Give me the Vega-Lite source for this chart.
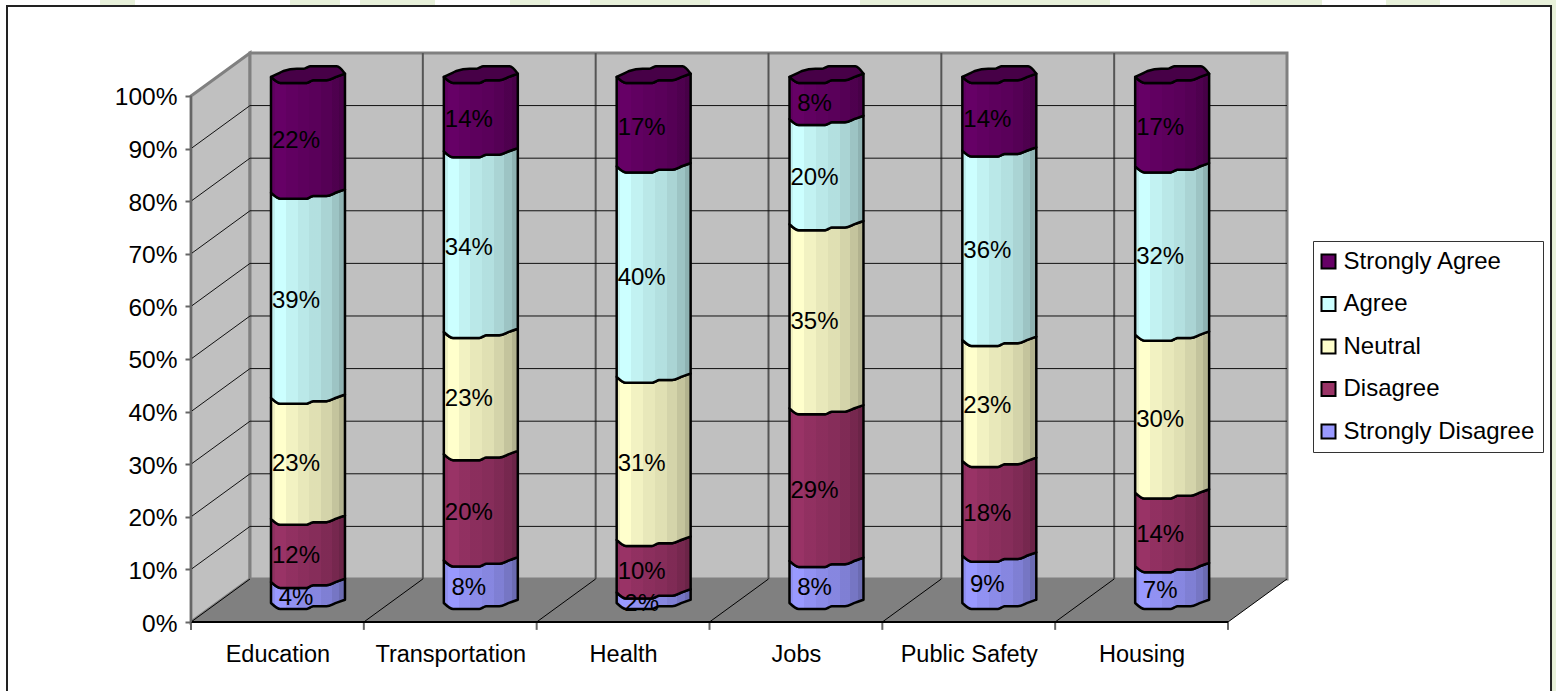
{
"$schema":"https://vega.github.io/schema/vega-lite/v6.json",
"width":1096,"height":569,
"autosize":"none",
"padding":{"left":191,"top":53,"right":269,"bottom":69},
"background":"white",
"config":{"view":{"stroke":null},"font":"Liberation Sans"},
"data":{"values":[
{"cat":0,"series":"Strongly Disagree","order":1,"value":4},{"cat":0,"series":"Disagree","order":2,"value":12},{"cat":0,"series":"Neutral","order":3,"value":23},{"cat":0,"series":"Agree","order":4,"value":39},{"cat":0,"series":"Strongly Agree","order":5,"value":22},
{"cat":1,"series":"Strongly Disagree","order":1,"value":8},{"cat":1,"series":"Disagree","order":2,"value":20},{"cat":1,"series":"Neutral","order":3,"value":23},{"cat":1,"series":"Agree","order":4,"value":34},{"cat":1,"series":"Strongly Agree","order":5,"value":14},
{"cat":2,"series":"Strongly Disagree","order":1,"value":2},{"cat":2,"series":"Disagree","order":2,"value":10},{"cat":2,"series":"Neutral","order":3,"value":31},{"cat":2,"series":"Agree","order":4,"value":40},{"cat":2,"series":"Strongly Agree","order":5,"value":17},
{"cat":3,"series":"Strongly Disagree","order":1,"value":8},{"cat":3,"series":"Disagree","order":2,"value":29},{"cat":3,"series":"Neutral","order":3,"value":35},{"cat":3,"series":"Agree","order":4,"value":20},{"cat":3,"series":"Strongly Agree","order":5,"value":8},
{"cat":4,"series":"Strongly Disagree","order":1,"value":9},{"cat":4,"series":"Disagree","order":2,"value":18},{"cat":4,"series":"Neutral","order":3,"value":23},{"cat":4,"series":"Agree","order":4,"value":36},{"cat":4,"series":"Strongly Agree","order":5,"value":14},
{"cat":5,"series":"Strongly Disagree","order":1,"value":7},{"cat":5,"series":"Disagree","order":2,"value":14},{"cat":5,"series":"Neutral","order":3,"value":30},{"cat":5,"series":"Agree","order":4,"value":32},{"cat":5,"series":"Strongly Agree","order":5,"value":17}
]},
"transform":[
{"stack":"value","groupby":["cat"],"sort":[{"field":"order","order":"ascending"}],"offset":"normalize","as":["v0","v1"]},
{"calculate":"[0,0.125,0.17,0.35,0.44,0.48,0.53,0.57,0.75,0.89,1]","as":"ts"},
{"calculate":"[0,6,6,6,6,6,4.5,3.3,3.3,-0.4,-3.3]","as":"fr"},
{"calculate":"[0,-4.4,-6,-8.3,-8.3,-9.3,-10.7,-10.7,-10.7,-10.7,-3.3]","as":"bk"},
{"flatten":["ts","fr","bk"]},
{"calculate":"datum.cat+0.4629+0.428*datum.ts","as":"px"},
{"calculate":"3.612+100*datum.v0-datum.fr/5.26","as":"lo"},
{"calculate":"3.612+100*datum.v1-datum.fr/5.26","as":"hi"},
{"calculate":"3.612+100*datum.v1-datum.bk/5.26","as":"back"},
{"calculate":"datum.cat+'-'+datum.series","as":"key"},
{"calculate":"format(datum.value,'.0f')+'%'","as":"label"},
{"calculate":"datum.cat+0.6075","as":"lx"},
{"calculate":"100*(datum.v0+datum.v1)/2+2.47","as":"ly"}
],
"layer":[
{"data":{"values":[
{"a":100,"b":135,"t":118.3,"u":117},{"a":290,"b":340,"t":118.3,"u":117},{"a":360,"b":435,"t":118.3,"u":117},{"a":510,"b":550,"t":118.3,"u":117},{"a":590,"b":710,"t":118.3,"u":117},{"a":860,"b":1110,"t":118.3,"u":117},{"a":1250,"b":1322,"t":118.3,"u":117},{"a":1386,"b":1440,"t":118.3,"u":117},{"a":1500,"b":1556,"t":118.3,"u":117},{"a":1552,"b":1556,"t":118.3,"u":-13.2}
]},
"transform":[{"calculate":"(datum.a-191)/172.83","as":"xa"},{"calculate":"(datum.b-191)/172.83","as":"xb"}],
"mark":{"type":"rect","fill":"#E8F1DA","clip":false},
"encoding":{"x":{"field":"xa","type":"quantitative","scale":{"domain":[0,6.3414],"nice":false,"zero":false},"axis":{"values":[0.5,1.5,2.5,3.5,4.5,5.5],"labelExpr":"['Education','Transportation','Health','Jobs','Public Safety','Housing'][floor(datum.value)]","ticks":false,"domain":false,"grid":false,"title":null,"labelFontSize":23.5,"labelColor":"black","labelPadding":20,"zindex":1,"labelOverlap":false,"labelFlush":false}},"x2":{"field":"xb"},
"y":{"field":"t","type":"quantitative","scale":{"domain":[0,108.17],"nice":false,"zero":false},"axis":{"values":[0,10,20,30,40,50,60,70,80,90,100],"labelExpr":"datum.value+'%'","domain":false,"grid":false,"title":null,"tickColor":"#666666","tickSize":6,"tickWidth":2,"labelFontSize":24.5,"labelColor":"black","labelPadding":8,"labelOffset":2,"zindex":1,"labelOverlap":false,"labelFlush":false}},"y2":{"field":"u"}}},
{"data":{"values":[{"x":-1.0646,"x2":7.869,"y":117.1,"y2":-14.8}]},
"mark":{"type":"rect","fill":"white","stroke":"#222222","strokeWidth":2},
"encoding":{"x":{"field":"x","type":"quantitative"},"x2":{"field":"x2"},"y":{"field":"y","type":"quantitative"},"y2":{"field":"y2"}}},
{"data":{"values":[{"x":0,"top":100,"bot":0},{"x":0.3414,"top":108.175,"bot":8.175}]},
"mark":{"type":"area","fill":"#C0C0C0","stroke":"#808080","strokeWidth":3,"clip":false},
"encoding":{"x":{"field":"x","type":"quantitative"},"y":{"field":"top","type":"quantitative","stack":null},"y2":{"field":"bot"}}},
{"data":{"values":[{"x":0.3414,"x2":6.3414,"y":8.175,"y2":108.175}]},
"mark":{"type":"rect","fill":"#C0C0C0","stroke":"#808080","strokeWidth":3,"clip":false},
"encoding":{"x":{"field":"x","type":"quantitative"},"x2":{"field":"x2"},"y":{"field":"y","type":"quantitative"},"y2":{"field":"y2"}}},
{"data":{"values":[{"x":0,"top":0,"bot":0},{"x":0.3414,"top":8.175,"bot":0},{"x":6,"top":8.175,"bot":0},{"x":6.3414,"top":8.175,"bot":8.175}]},
"mark":{"type":"area","fill":"#808080","clip":false},
"encoding":{"x":{"field":"x","type":"quantitative"},"y":{"field":"top","type":"quantitative","stack":null},"y2":{"field":"bot"}}},
{"data":{"values":[
{"x":1.3414,"y":8.175,"y2":108.175},{"x":2.3414,"y":8.175,"y2":108.175},{"x":3.3414,"y":8.175,"y2":108.175},{"x":4.3414,"y":8.175,"y2":108.175},{"x":5.3414,"y":8.175,"y2":108.175}]},
"mark":{"type":"rule","stroke":"#555555","strokeWidth":2},
"encoding":{"x":{"field":"x","type":"quantitative"},"y":{"field":"y","type":"quantitative"},"y2":{"field":"y2"}}},
{"data":{"values":[
{"v":10},{"v":20},{"v":30},{"v":40},{"v":50},{"v":60},{"v":70},{"v":80},{"v":90}]},
"transform":[{"calculate":"datum.v+8.175","as":"w"}],
"layer":[
{"mark":{"type":"rule","stroke":"#111111","strokeWidth":1},
"encoding":{"x":{"datum":0,"type":"quantitative"},"x2":{"datum":0.3414},"y":{"field":"v","type":"quantitative"},"y2":{"field":"w"}}},
{"mark":{"type":"rule","stroke":"#111111","strokeWidth":1},
"encoding":{"x":{"datum":0.3414,"type":"quantitative"},"x2":{"datum":6.3414},"y":{"field":"w","type":"quantitative"}}}
]},
{"data":{"values":[{"x":0},{"x":1},{"x":2},{"x":3},{"x":4},{"x":5},{"x":6}]},
"transform":[{"calculate":"datum.x+0.3414","as":"xd"}],
"layer":[
{"mark":{"type":"rule","stroke":"black","strokeWidth":1},
"encoding":{"x":{"field":"x","type":"quantitative"},"x2":{"field":"xd"},"y":{"datum":0,"type":"quantitative"},"y2":{"datum":8.175}}},
{"mark":{"type":"rule","stroke":"#666666","strokeWidth":2},
"encoding":{"x":{"field":"x","type":"quantitative"},"y":{"datum":0,"type":"quantitative"},"y2":{"datum":-1.5}}}
]},
{"data":{"values":[{"x":0,"x2":6,"y":0}]},
"mark":{"type":"rule","stroke":"black","strokeWidth":2},
"encoding":{"x":{"field":"x","type":"quantitative"},"x2":{"field":"x2"},"y":{"field":"y","type":"quantitative"}}},
{"data":{"values":[{"x":0,"y":0,"y2":100}]},
"mark":{"type":"rule","stroke":"#666666","strokeWidth":2},
"encoding":{"x":{"field":"x","type":"quantitative"},"y":{"field":"y","type":"quantitative"},"y2":{"field":"y2"}}},
{"mark":{"type":"area","stroke":"black","strokeWidth":2.5,"strokeJoin":"round","interpolate":"monotone"},
"encoding":{"x":{"field":"px","type":"quantitative"},"y":{"field":"hi","type":"quantitative","stack":null},"y2":{"field":"lo"},"detail":{"field":"key"},
"color":{"field":"series","type":"nominal","scale":{"domain":["Strongly Agree","Agree","Neutral","Disagree","Strongly Disagree"],"range":["#660066","#CCFFFF","#FFFFCC","#993366","#9999FF"]},
"legend":{"orient":"none","legendX":1122,"legendY":188,"title":null,"symbolType":"square","symbolSize":196,"symbolOffset":-5,"symbolStrokeColor":"black","symbolStrokeWidth":2,"labelFontSize":24,"labelColor":"black","labelOffset":3,"rowPadding":18.5,"padding":8.5,"strokeColor":"#333333","fillColor":"white","labelLimit":300}}}},
{"mark":{"type":"area","stroke":null,"interpolate":"monotone","fill":{"x1":0,"y1":0,"x2":1,"y2":0,"gradient":"linear","stops":[
{"offset":0,"color":"rgba(0,0,0,0.06)"},{"offset":0.05,"color":"rgba(0,0,0,0.06)"},{"offset":0.05,"color":"rgba(0,0,0,0)"},
{"offset":0.2,"color":"rgba(0,0,0,0)"},{"offset":0.2,"color":"rgba(0,0,0,0.05)"},
{"offset":0.36,"color":"rgba(0,0,0,0.05)"},{"offset":0.36,"color":"rgba(0,0,0,0.09)"},
{"offset":0.52,"color":"rgba(0,0,0,0.09)"},{"offset":0.52,"color":"rgba(0,0,0,0.12)"},
{"offset":0.68,"color":"rgba(0,0,0,0.12)"},{"offset":0.68,"color":"rgba(0,0,0,0.17)"},
{"offset":0.82,"color":"rgba(0,0,0,0.17)"},{"offset":0.82,"color":"rgba(0,0,0,0.23)"},
{"offset":0.92,"color":"rgba(0,0,0,0.23)"},{"offset":0.92,"color":"rgba(0,0,0,0.3)"},{"offset":1,"color":"rgba(0,0,0,0.3)"}]}},
"encoding":{"x":{"field":"px","type":"quantitative"},"y":{"field":"hi","type":"quantitative","stack":null},"y2":{"field":"lo"},"detail":{"field":"key"}}},
{"transform":[{"filter":"datum.series==='Strongly Agree'"}],
"mark":{"type":"area","fill":"#470047","stroke":"black","strokeWidth":2.5,"strokeJoin":"round","interpolate":"monotone"},
"encoding":{"x":{"field":"px","type":"quantitative"},"y":{"field":"back","type":"quantitative","stack":null},"y2":{"field":"hi"},"detail":{"field":"key"}}},
{"transform":[{"filter":"datum.ts===0"}],
"mark":{"type":"text","fontSize":24,"fill":"black","align":"center","baseline":"middle"},
"encoding":{"x":{"field":"lx","type":"quantitative"},"y":{"field":"ly","type":"quantitative"},"text":{"field":"label","type":"nominal"}}}
]
}
